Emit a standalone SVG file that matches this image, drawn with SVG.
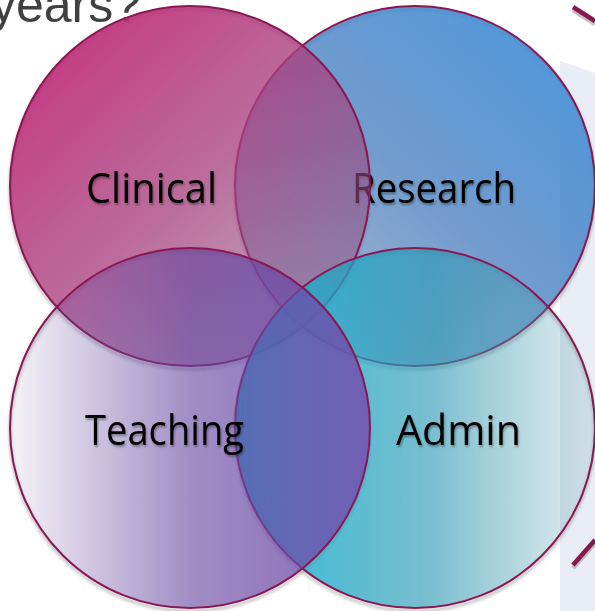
<svg xmlns="http://www.w3.org/2000/svg" width="595" height="611" viewBox="0 0 595 611">
  <defs>
    <linearGradient id="gClinical" x1="0.12" y1="0.1" x2="0.88" y2="0.9">
      <stop offset="0" stop-color="#c02a78" stop-opacity="0.92"/>
      <stop offset="0.5" stop-color="#a84280" stop-opacity="0.78"/>
      <stop offset="1" stop-color="#8a5080" stop-opacity="0.48"/>
    </linearGradient>
    <linearGradient id="gResearch" x1="0.88" y1="0.1" x2="0.12" y2="0.9">
      <stop offset="0" stop-color="#4490d8" stop-opacity="0.93"/>
      <stop offset="0.5" stop-color="#4a80c0" stop-opacity="0.78"/>
      <stop offset="1" stop-color="#5078a8" stop-opacity="0.48"/>
    </linearGradient>
    <linearGradient id="gTeaching" x1="0" y1="0" x2="1" y2="0">
      <stop offset="0" stop-color="#64449e" stop-opacity="0.06"/>
      <stop offset="0.5" stop-color="#62429e" stop-opacity="0.6"/>
      <stop offset="1" stop-color="#7450b0" stop-opacity="0.86"/>
    </linearGradient>
    <linearGradient id="gAdmin" x1="0" y1="0" x2="1" y2="0">
      <stop offset="0" stop-color="#1cb8d8" stop-opacity="0.92"/>
      <stop offset="0.55" stop-color="#2898b4" stop-opacity="0.62"/>
      <stop offset="1" stop-color="#5e9cae" stop-opacity="0.18"/>
    </linearGradient>
    <filter id="blur" x="-10%" y="-10%" width="120%" height="120%">
      <feGaussianBlur stdDeviation="1.5"/>
    </filter>
    <filter id="txtShadow" x="-10%" y="-20%" width="120%" height="150%">
      <feDropShadow dx="1" dy="2" stdDeviation="1.2" flood-color="#000" flood-opacity="0.35"/>
    </filter>
  </defs>
  <style>
    .ring { stroke: #8b1752; stroke-width: 2; }
    .ringShadow { fill: none; stroke: #7a7a7a; stroke-width: 3; opacity: 0.45; }
    .label { font-family: "Open Sans", "Liberation Sans", sans-serif; font-size: 42px; fill: #000; }
    .deco { stroke: #8b1752; stroke-width: 4.5; stroke-linecap: butt; }
    .decoShadow { stroke: #9a9a9a; stroke-width: 4.5; opacity: 0.6; }
  </style>

  <g id="background">
    <polygon points="560,61 595,73 595,611 560,611" fill="#e9edf5"/>
    <line class="decoShadow" x1="573" y1="10" x2="595" y2="24"/>
    <line class="deco" x1="573" y1="7" x2="595" y2="21"/>
    <line class="decoShadow" x1="573" y1="568" x2="595" y2="543"/>
    <line class="deco" x1="573" y1="565" x2="595" y2="540"/>
    <text x="-9" y="22" font-family="'Liberation Sans', Arial, sans-serif" font-size="50" fill="#404040">years?</text>
  </g>

  <g id="shadows" filter="url(#blur)">
    <circle class="ringShadow" cx="415" cy="189" r="180"/>
    <circle class="ringShadow" cx="190" cy="189" r="180"/>
    <circle class="ringShadow" cx="415" cy="431" r="180"/>
    <circle class="ringShadow" cx="190" cy="431" r="180"/>
  </g>

  <g id="research">
    <circle class="ring" cx="415" cy="186" r="180" fill="url(#gResearch)"/>
    <text class="label" x="352" y="203" textLength="164" lengthAdjust="spacingAndGlyphs" filter="url(#txtShadow)">Research</text>
  </g>

  <g id="clinical">
    <circle class="ring" cx="190" cy="186" r="180" fill="url(#gClinical)"/>
    <text class="label" x="86" y="203" textLength="131" lengthAdjust="spacingAndGlyphs" filter="url(#txtShadow)">Clinical</text>
  </g>

  <g id="admin">
    <circle class="ring" cx="415" cy="428" r="180" fill="url(#gAdmin)"/>
    <text class="label" x="396" y="445" textLength="125" lengthAdjust="spacingAndGlyphs" filter="url(#txtShadow)">Admin</text>
  </g>

  <g id="teaching">
    <circle class="ring" cx="190" cy="428" r="180" fill="url(#gTeaching)"/>
    <text class="label" x="85" y="445" textLength="159" lengthAdjust="spacingAndGlyphs" filter="url(#txtShadow)">Teaching</text>
  </g>

  <g id="connectors"></g>
</svg>
